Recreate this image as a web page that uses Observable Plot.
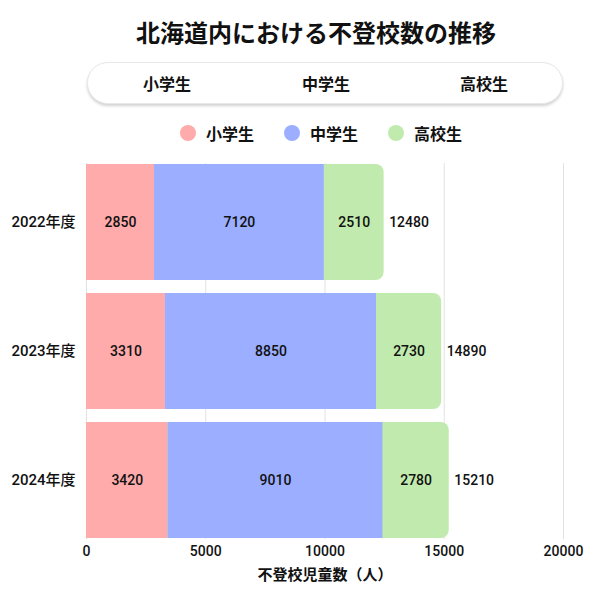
<!DOCTYPE html>
<html><head><meta charset="utf-8">
<script src="https://cdn.jsdelivr.net/npm/d3@7"></script>
<script src="https://cdn.jsdelivr.net/npm/@observablehq/plot@0.6"></script>
<style>
body{margin:0;background:#fff;font-family:Roboto,"Noto Sans CJK JP",sans-serif;color:#111;}
#wrap{position:relative;width:600px;height:600px;}
#title{position:absolute;left:16px;top:17px;width:600px;text-align:center;font-size:24px;font-weight:700;font-family:"Noto Sans CJK JP",sans-serif;line-height:30px;}
#tabs{position:absolute;left:87px;top:62px;width:474px;height:40px;border:1px solid #e8e8e8;border-radius:21px;box-shadow:0 2px 3px rgba(0,0,0,0.18);background:#fff;}
.tab{position:absolute;top:0;height:40px;line-height:40px;font-size:16px;font-weight:700;font-family:"Noto Sans CJK JP",sans-serif;transform:translateX(-50%);}
.leg{position:absolute;top:122px;height:22px;display:flex;align-items:center;font-size:16px;font-weight:700;font-family:"Noto Sans CJK JP",sans-serif;}
.dot{width:16px;height:16px;border-radius:50%;margin-right:10px;}
#chart{position:absolute;left:0;top:150px;}
</style></head>
<body><div id="wrap">
<div id="title">北海道内における不登校数の推移</div>
<div id="tabs"></div>
<div id="chart"></div>
</div>
<script>
const years = ["2022年度", "2023年度", "2024年度"];
const series = ["小学生", "中学生", "高校生"];
const elementary = [2850, 3310, 3420];
const middle = [7120, 8850, 9010];
const high = [2510, 2730, 2780];
const totals = [12480, 14890, 15210];
const colors = ["#ffabab", "#9baeff", "#c1ebae"];
const xTicks = [0, 5000, 10000, 15000, 20000];

// tabs
const tabs = document.getElementById("tabs");
[79, 238, 396].forEach((cx, i) => {
  const d = document.createElement("div");
  d.className = "tab"; d.style.left = cx + "px"; d.textContent = series[i];
  tabs.appendChild(d);
});
// legend
const wrap = document.getElementById("wrap");
[180, 284, 388].forEach((x, i) => {
  const d = document.createElement("div");
  d.className = "leg"; d.style.left = x + "px";
  d.innerHTML = `<span class="dot" style="background:${colors[i]}"></span>${series[i]}`;
  wrap.appendChild(d);
});

const segs = [];
years.forEach((y, i) => {
  segs.push({year: y, s: series[0], x1: 0, x2: elementary[i], v: elementary[i]});
  segs.push({year: y, s: series[1], x1: elementary[i], x2: elementary[i] + middle[i], v: middle[i]});
  segs.push({year: y, s: series[2], x1: elementary[i] + middle[i], x2: elementary[i] + middle[i] + high[i], v: high[i]});
});
const tot = years.map((y, i) => ({year: y, total: totals[i]}));
const sq = segs.filter(d => d.s !== series[2]);

const chart = Plot.plot({
  width: 600, height: 450,
  marginTop: 13, marginBottom: 61, marginLeft: 86, marginRight: 37,
  style: {fontFamily: 'Roboto, "Noto Sans CJK JP", sans-serif', fontSize: "14px", color: "#111"},
  x: {domain: [0, 20000], ticks: xTicks, tickSize: 0, tickPadding: 7, label: "不登校児童数（人）", labelAnchor: "center", labelArrow: "none", labelOffset: 40, tickFormat: d => String(d)},
  y: {domain: years, padding: 0.1, paddingOuter: 0, tickSize: 0, tickPadding: 11, label: null},
  color: {domain: series, range: colors},
  marks: [
    Plot.gridX(xTicks, {stroke: "#e2e2e2", strokeOpacity: 1, strokeWidth: 1}),
    Plot.barX(tot, {y: "year", x1: 0, x2: "total", fill: colors[2], rx: 8}),
    Plot.barX(sq, {y: "year", x1: "x1", x2: "x2", fill: "s"}),
    Plot.text(segs, {y: "year", x: d => (d.x1 + d.x2) / 2, text: d => String(d.v), fontSize: 14, fontWeight: 500, fill: "#111"}),
    Plot.text(tot, {y: "year", x: "total", text: d => String(d.total), textAnchor: "start", dx: 5, fontSize: 14, fontWeight: 500, fill: "#111"})
  ]
});
chart.querySelectorAll('[aria-label="x-axis tick label"] text').forEach(t => { t.style.fontSize = "14px"; t.style.fontWeight = "500"; });
chart.querySelectorAll('[aria-label="y-axis tick label"] text').forEach(t => { t.style.fontSize = "15px"; t.style.fontWeight = "500"; });
const xl = chart.querySelector('[aria-label="x-axis label"]');
if (xl) { xl.style.fontWeight = "700"; xl.style.fontSize = "15px"; xl.style.fontFamily = '"Noto Sans CJK JP", sans-serif'; }
document.getElementById("chart").appendChild(chart);
</script>
</body></html>
